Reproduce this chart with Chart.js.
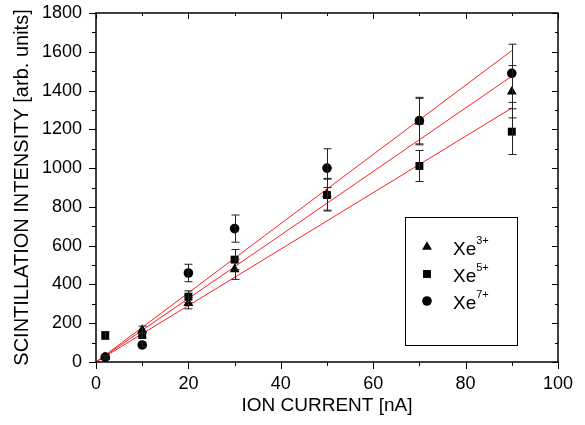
<!DOCTYPE html>
<html>
<head>
<meta charset="utf-8">
<script src="https://cdn.jsdelivr.net/npm/chart.js@4.4.1/dist/chart.umd.min.js"></script>
<style>
  html, body { margin: 0; padding: 0; background: #fff; }
  #wrap { width: 585px; height: 425px; }
</style>
</head>
<body>
<div id="wrap"><canvas id="myChart" width="585" height="425"></canvas></div>
<script>
// ion current [nA]
const current = [2, 10, 20, 30, 50, 70, 90];

// scintillation intensity per charge state, with error bars
const xe3 = [25, 165, 304, 478, 865, 1240, 1394];
const xe3Err = [10, 20, 30, 52, 82, 120, 135];
const xe5 = [137, 139, 337, 528, 861, 1011, 1188];
const xe5Err = [20, 15, 30, 52, 82, 80, 118];
const xe7 = [25, 88, 459, 688, 1000, 1245, 1489];
const xe7Err = [5, 10, 45, 70, 100, 120, 150];

// linear fits, end points
const fitX = [0, 90];
const fit3 = [0, 1474];
const fit5 = [0, 1310];
const fit7 = [0, 1606];

const xTicks = [0, 20, 40, 60, 80, 100];
const yTicks = [0, 200, 400, 600, 800, 1000, 1200, 1400, 1600, 1800];

const FONT = "'Liberation Sans', Arial, sans-serif";

function pts(ys) {
    return current.map((x, i) => ({ x: x, y: ys[i] }));
}
function line(ys) {
    return fitX.map((x, i) => ({ x: x, y: ys[i] }));
}

function fitSet(ys) {
    return {
        type: 'line',
        data: line(ys),
        borderColor: '#ff2020',
        borderWidth: 1,
        pointRadius: 0,
        fill: false,
        order: 2
    };
}
function markerSet(label, ys, errs, style, r) {
    return {
        type: 'scatter',
        label: label,
        data: pts(ys),
        errors: errs,
        pointStyle: style,
        pointRadius: r,
        backgroundColor: '#000',
        borderColor: '#000',
        borderWidth: 0,
        order: 1
    };
}

// error bars, frame with ticks, legend box
const extras = {
    id: 'extras',
    afterDatasetsDraw(chart) {
        const c = chart.ctx;
        const xs = chart.scales.x, ys = chart.scales.y;
        c.save();
        c.strokeStyle = '#222';
        c.lineWidth = 1;
        chart.data.datasets.forEach((ds) => {
            if (!ds.errors) return;
            ds.data.forEach((p, i) => {
                const px = Math.round(xs.getPixelForValue(p.x)) + 0.5;
                const top = ys.getPixelForValue(p.y + ds.errors[i]);
                const bot = ys.getPixelForValue(p.y - ds.errors[i]);
                c.beginPath();
                c.moveTo(px, top); c.lineTo(px, bot);
                c.moveTo(px - 4, top); c.lineTo(px + 4, top);
                c.moveTo(px - 4, bot); c.lineTo(px + 4, bot);
                c.stroke();
            });
        });
        c.restore();
    },
    afterDraw(chart) {
        const c = chart.ctx;
        const a = chart.chartArea;
        const xs = chart.scales.x, ys = chart.scales.y;
        c.save();
        c.strokeStyle = '#000';
        c.lineWidth = 1.5;
        c.strokeRect(a.left, a.top, a.right - a.left, a.bottom - a.top);
        c.lineWidth = 1;
        c.beginPath();
        for (let v = 0; v <= 100; v += 10) {
            const px = Math.round(xs.getPixelForValue(v)) + 0.5;
            const major = v % 20 === 0;
            c.moveTo(px, a.bottom); c.lineTo(px, a.bottom + (major ? 7 : 4));
            c.moveTo(px, a.top); c.lineTo(px, a.top + (major ? 6 : 3));
        }
        for (let v = 0; v <= 1800; v += 100) {
            const py = Math.round(ys.getPixelForValue(v)) + 0.5;
            const major = v % 200 === 0;
            c.moveTo(a.left, py); c.lineTo(a.left - (major ? 7 : 4), py);
            c.moveTo(a.right, py); c.lineTo(a.right - (major ? 6 : 3), py);
        }
        c.stroke();

        // legend
        const bx = a.left + 309, by = a.top + 204, bw = 112, bh = 128;
        c.lineWidth = 1;
        c.strokeRect(bx + 0.5, by + 0.5, bw, bh);
        const items = chart.data.datasets.filter(d => d.label);
        items.forEach((ds, i) => {
            const cy = by + 30 + i * 27;
            Chart.helpers.drawPoint(c, {
                pointStyle: ds.pointStyle,
                radius: ds.pointRadius,
                borderWidth: 0
            }, bx + 22, cy);
            c.fillStyle = '#000';
            c.textBaseline = 'middle';
            c.font = '19px ' + FONT;
            c.fillText('Xe', bx + 48, cy + 3);
            const w = c.measureText('Xe').width;
            c.font = '11px ' + FONT;
            c.fillText(ds.label, bx + 48 + w, cy - 6);
        });
        c.restore();
    }
};

const chart = new Chart(document.getElementById('myChart'), {
    data: {
        datasets: [
            markerSet('3+', xe3, xe3Err, 'triangle', 5.7),
            markerSet('5+', xe5, xe5Err, 'rect', 5.6),
            markerSet('7+', xe7, xe7Err, 'circle', 4.8),
            fitSet(fit7),
            fitSet(fit3),
            fitSet(fit5)
        ]
    },
    options: {
        responsive: false,
        animation: false,
        layout: { padding: { top: 13, right: 27, left: 0, bottom: 0 } },
        plugins: { legend: { display: false }, tooltip: { enabled: false } },
        scales: {
            x: {
                type: 'linear',
                min: 0, max: 100,
                afterFit(s) { s.height = 63; },
                afterBuildTicks(s) { s.ticks = xTicks.map(v => ({ value: v })); },
                grid: { display: false, drawTicks: true, tickLength: 11 },
                border: { display: false },
                ticks: { color: '#000', padding: 0, font: { family: FONT, size: 18 } },
                title: {
                    display: true, text: 'ION CURRENT [nA]', color: '#000',
                    padding: { top: 0, bottom: 8 },
                    font: { family: FONT, size: 19 }
                }
            },
            y: {
                type: 'linear',
                min: 0, max: 1800,
                afterFit(s) { s.width = 96; },
                afterBuildTicks(s) { s.ticks = yTicks.map(v => ({ value: v })); },
                grid: { display: false, drawTicks: true, tickLength: 14 },
                border: { display: false },
                ticks: {
                    color: '#000', padding: 0,
                    font: { family: FONT, size: 18 },
                    callback: (v) => String(v)
                },
                title: {
                    display: true, text: 'SCINTILLATION INTENSITY [arb. units]', color: '#000',
                    padding: { top: 10, bottom: 0 },
                    font: { family: FONT, size: 20 }
                }
            }
        }
    },
    plugins: [extras]
});
</script>
</body>
</html>
